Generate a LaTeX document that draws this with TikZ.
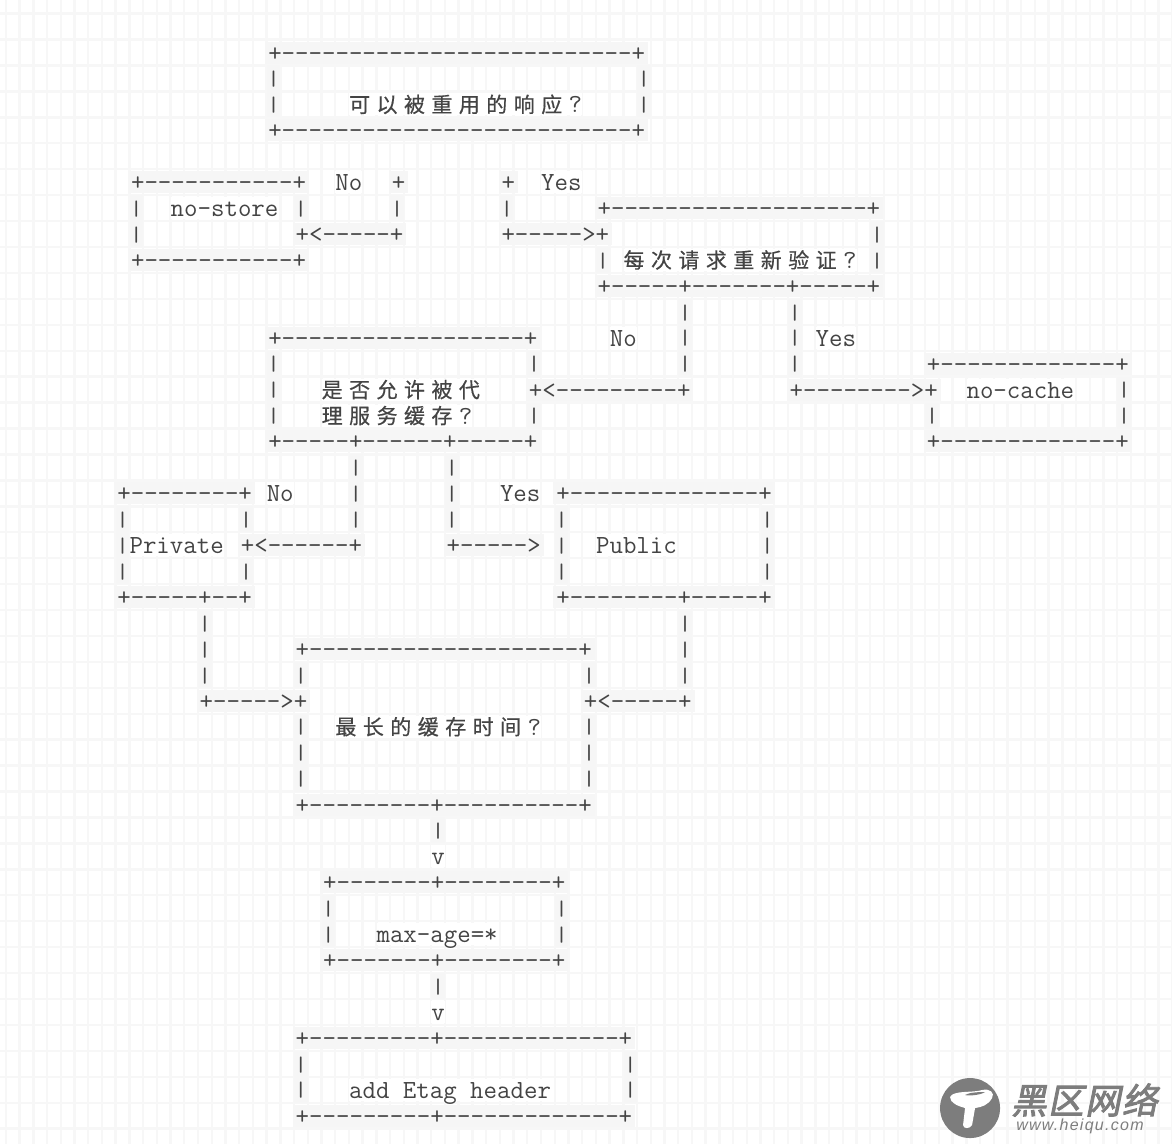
\documentclass[tikz,border=0pt]{standalone}
\usepackage{fontspec}
\usetikzlibrary{calc}

\newfontfamily\cjk[LetterSpace=30.7,FakeBold=0.5]{Noto Sans CJK SC}
\newfontfamily\wmcjk[FakeSlant=0.2,FakeBold=2.5,LetterSpace=4]{Noto Sans CJK SC}
\newfontfamily\wmlat[LetterSpace=8]{Liberation Sans}
\newcommand{\asc}{\ttfamily\fontsize{26.13}{30}\selectfont}
\newcommand{\han}[1]{\raisebox{0.5pt}{\fontsize{21}{24}\cjk #1}\hspace{6.44pt}}
\newcommand{\vl}{\raisebox{1.3pt}{\scalebox{1}[0.8]{|}}}

\definecolor{gridgray}{HTML}{F7F7F7}
\definecolor{rowgray}{HTML}{F6F6F6}
\definecolor{inkgray}{HTML}{444444}
\definecolor{markgray}{HTML}{7D7D7D}

\tikzset{
  boxrow/.style={anchor=west, inner ysep=0pt, inner xsep=3pt, xshift=-1.5pt, fill=rowgray,
    font=\asc, text=inkgray, text height=19.5pt, text depth=2.5pt},
  vbar/.style={anchor=west, inner sep=0pt, fill=rowgray,
    font=\asc, text=inkgray, text height=21.5pt, text depth=4.43pt},
  label/.style={anchor=west, inner sep=0pt, fill=white,
    font=\asc, text=inkgray, text height=19.5pt, text depth=2.5pt}
}

\begin{document}
\begin{tikzpicture}[x=13.72pt, y=-25.93pt]

%% page size, one col is one character, one row is one text line
\useasboundingbox (-8.43, -2.025) rectangle (76.99, 42.09);

%% background grid
\clip (-8.43, -2.025) rectangle (76.99, 42.09);
\foreach \gridCol in {-8,...,77} \draw[gridgray, line width=2.4pt] (\gridCol, -3) -- (\gridCol, 43);
\foreach \gridRow in {-3,...,42} \draw[gridgray, line width=2.4pt] (-9, \gridRow + 0.5) -- (78, \gridRow + 0.5);

    %% reusable response
    \node[boxrow] (reuseTop) at (11, 0) {+--------------------------+};
    \node[vbar] (reuseLa) at (11, 1) {\vl};
    \node[vbar] (reuseRa) at (38, 1) {\vl};
    \node[vbar] (reuseLb) at (11, 2) {\vl};
    \node[vbar] (reuseRb) at (38, 2) {\vl};
    \node[label] (reuseText) at (17, 2) {\han{可以被重用的响应}?};
    \node[boxrow] (reuseBottom) at (11, 3) {+--------------------------+};

    %% no-store
    \node[boxrow] (storeTop) at (1, 5) {+-----------+};
    \node[label] (storeNo) at (16, 5) {No};
    \node[boxrow] (storeCorner) at (20, 5) {+};
    \node[vbar] (storeLa) at (1, 6) {\vl};
    \node[label] (storeText) at (4, 6) {no-store};
    \node[vbar] (storeRa) at (13, 6) {\vl};
    \node[vbar] (storeWire) at (20, 6) {\vl};
    \node[vbar] (storeLb) at (1, 7) {\vl};
    \node[boxrow] (storeArrow) at (13, 7) {+<-----+};
    \node[boxrow] (storeBottom) at (1, 8) {+-----------+};

    %% revalidate
    \node[boxrow] (checkCorner) at (28, 5) {+};
    \node[label] (checkYes) at (31, 5) {Yes};
    \node[vbar] (checkWire) at (28, 6) {\vl};
    \node[boxrow] (checkTop) at (35, 6) {+-------------------+};
    \node[boxrow] (checkArrow) at (28, 7) {+----->+};
    \node[vbar] (checkRa) at (55, 7) {\vl};
    \node[vbar] (checkLb) at (35, 8) {\vl};
    \node[label] (checkText) at (37, 8) {\han{每次请求重新验证}?};
    \node[vbar] (checkRb) at (55, 8) {\vl};
    \node[boxrow] (checkBottom) at (35, 9) {+-----+-------+-----+};

    \node[vbar] (proxyWirea) at (41, 10) {\vl};
    \node[vbar] (cacheWirea) at (49, 10) {\vl};
    \node[label] (proxyNo) at (36, 11) {No};
    \node[vbar] (proxyWireb) at (41, 11) {\vl};
    \node[vbar] (cacheWireb) at (49, 11) {\vl};
    \node[label] (cacheYes) at (51, 11) {Yes};
    \node[vbar] (proxyWirec) at (41, 12) {\vl};
    \node[vbar] (cacheWirec) at (49, 12) {\vl};

    %% no-cache
    \node[boxrow] (cacheTop) at (59, 12) {+-------------+};
    \node[boxrow] (cacheArrow) at (49, 13) {+-------->+};
    \node[label] (cacheText) at (62, 13) {no-cache};
    \node[vbar] (cacheRa) at (73, 13) {\vl};
    \node[vbar] (cacheLb) at (59, 14) {\vl};
    \node[vbar] (cacheRb) at (73, 14) {\vl};
    \node[boxrow] (cacheBottom) at (59, 15) {+-------------+};

    %% proxy cache allowed
    \node[boxrow] (proxyTop) at (11, 11) {+------------------+};
    \node[vbar] (proxyLa) at (11, 12) {\vl};
    \node[vbar] (proxyRa) at (30, 12) {\vl};
    \node[vbar] (proxyLb) at (11, 13) {\vl};
    \node[label] (proxyTexta) at (15, 13) {\han{是否允许被代}};
    \node[boxrow] (proxyArrow) at (30, 13) {+<---------+};
    \node[vbar] (proxyLc) at (11, 14) {\vl};
    \node[label] (proxyTextb) at (15, 14) {\han{理服务缓存}?};
    \node[vbar] (proxyRc) at (30, 14) {\vl};
    \node[boxrow] (proxyBottom) at (11, 15) {+-----+------+-----+};

    \node[vbar] (privWirea) at (17, 16) {\vl};
    \node[vbar] (pubWirea) at (24, 16) {\vl};
    \node[vbar] (privWireb) at (17, 17) {\vl};
    \node[vbar] (pubWireb) at (24, 17) {\vl};
    \node[vbar] (privWirec) at (17, 18) {\vl};
    \node[vbar] (pubWirec) at (24, 18) {\vl};

    %% private
    \node[boxrow] (privTop) at (0, 17) {+--------+};
    \node[label] (privNo) at (11, 17) {No};
    \node[vbar] (privLa) at (0, 18) {\vl};
    \node[vbar] (privRa) at (9, 18) {\vl};
    \node[vbar] (privLb) at (0, 19) {\vl};
    \node[label] (privText) at (1, 19) {Private};
    \node[boxrow] (privArrow) at (9, 19) {+<------+};
    \node[vbar] (privLc) at (0, 20) {\vl};
    \node[vbar] (privRc) at (9, 20) {\vl};
    \node[boxrow] (privBottom) at (0, 21) {+-----+--+};

    %% public
    \node[label] (pubYes) at (28, 17) {Yes};
    \node[boxrow] (pubTop) at (32, 17) {+--------------+};
    \node[vbar] (pubLa) at (32, 18) {\vl};
    \node[vbar] (pubRa) at (47, 18) {\vl};
    \node[boxrow] (pubArrow) at (24, 19) {+----->};
    \node[vbar] (pubLb) at (32, 19) {\vl};
    \node[label] (pubText) at (35, 19) {Public};
    \node[vbar] (pubRb) at (47, 19) {\vl};
    \node[vbar] (pubLc) at (32, 20) {\vl};
    \node[vbar] (pubRc) at (47, 20) {\vl};
    \node[boxrow] (pubBottom) at (32, 21) {+--------+-----+};

    %% longest cache time
    \node[vbar] (privWired) at (6, 22) {\vl};
    \node[vbar] (pubWired) at (41, 22) {\vl};
    \node[vbar] (privWiree) at (6, 23) {\vl};
    \node[vbar] (pubWiree) at (41, 23) {\vl};
    \node[vbar] (privWiref) at (6, 24) {\vl};
    \node[vbar] (pubWiref) at (41, 24) {\vl};
    \node[boxrow] (timeTop) at (13, 23) {+--------------------+};
    \node[vbar] (timeLa) at (13, 24) {\vl};
    \node[vbar] (timeRa) at (34, 24) {\vl};
    \node[boxrow] (timeArrowL) at (6, 25) {+----->+};
    \node[boxrow] (timeArrowR) at (34, 25) {+<-----+};
    \node[vbar] (timeLb) at (13, 26) {\vl};
    \node[label] (timeText) at (16, 26) {\han{最长的缓存时间}?};
    \node[vbar] (timeRb) at (34, 26) {\vl};
    \node[vbar] (timeLc) at (13, 27) {\vl};
    \node[vbar] (timeRc) at (34, 27) {\vl};
    \node[vbar] (timeLd) at (13, 28) {\vl};
    \node[vbar] (timeRd) at (34, 28) {\vl};
    \node[boxrow] (timeBottom) at (13, 29) {+---------+----------+};

    %% max-age
    \node[vbar] (ageWire) at (23, 30) {\vl};
    \node[label] (ageTip) at (23, 31) {v};
    \node[boxrow] (ageTop) at (15, 32) {+-------+--------+};
    \node[vbar] (ageLa) at (15, 33) {\vl};
    \node[vbar] (ageRa) at (32, 33) {\vl};
    \node[vbar] (ageLb) at (15, 34) {\vl};
    \node[label] (ageText) at (19, 34) {max-age=*};
    \node[vbar] (ageRb) at (32, 34) {\vl};
    \node[boxrow] (ageBottom) at (15, 35) {+-------+--------+};

    %% etag
    \node[vbar] (etagWire) at (23, 36) {\vl};
    \node[label] (etagTip) at (23, 37) {v};
    \node[boxrow] (etagTop) at (13, 38) {+---------+-------------+};
    \node[vbar] (etagLa) at (13, 39) {\vl};
    \node[vbar] (etagRa) at (37, 39) {\vl};
    \node[vbar] (etagLb) at (13, 40) {\vl};
    \node[label] (etagText) at (17, 40) {add Etag header};
    \node[vbar] (etagRb) at (37, 40) {\vl};
    \node[boxrow] (etagBottom) at (13, 41) {+---------+-------------+};

    %% watermark, in picture pixels
    \begin{scope}[x=1pt, y=-1pt, shift={(-115.64pt, 52.5pt)}]
        \node[circle, fill=markgray, inner sep=0pt, minimum size=60pt] (markDisc) at (970, 1108) {};
        \fill[white] (950, 1097) .. controls (953, 1090) and (972, 1093) .. (982, 1090)
            .. controls (990, 1088) and (995, 1093) .. (992, 1098)
            .. controls (988, 1105) and (982, 1107) .. (975, 1108)
            -- (972, 1125) .. controls (970, 1129) and (963, 1129) .. (963, 1125)
            -- (965, 1108) .. controls (958, 1106) and (950, 1103) .. (950, 1097) -- cycle;
        \fill[markgray] (965, 1095) .. controls (970, 1092) and (980, 1092) .. (985, 1092)
            .. controls (980, 1095) and (970, 1096) .. (965, 1095) -- cycle;
        \node[anchor=west, inner sep=0pt, text=markgray, font={\fontsize{35.5}{40}\wmcjk}] (markName) at (1011, 1100) {黑区网络};
        \node[anchor=west, inner sep=0pt, text=markgray, font={\fontsize{16}{20}\wmlat\itshape}] (markUrl) at (1016, 1126) {www.heiqu.com};
    \end{scope}

\end{tikzpicture}
\end{document}
